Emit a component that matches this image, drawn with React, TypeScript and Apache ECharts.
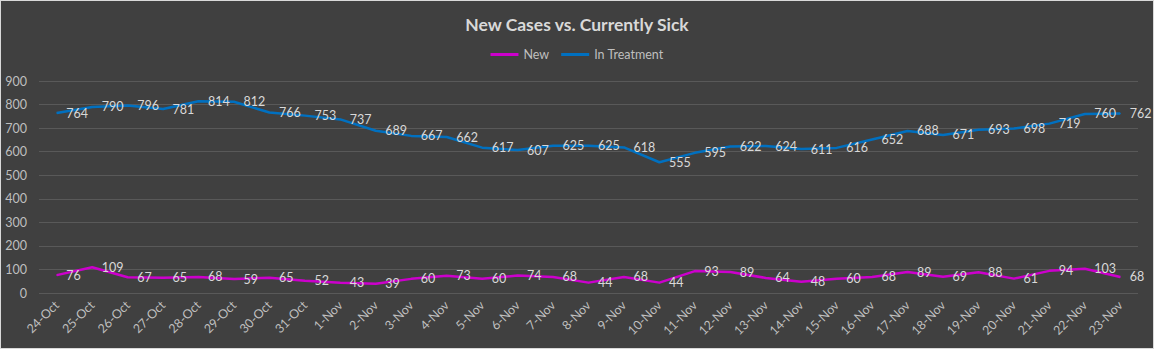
import React, { useEffect, useRef } from "react";
import * as echarts from "echarts";

const categories = [
  "24-Oct", "25-Oct", "26-Oct", "27-Oct", "28-Oct", "29-Oct", "30-Oct", "31-Oct",
  "1-Nov", "2-Nov", "3-Nov", "4-Nov", "5-Nov", "6-Nov", "7-Nov", "8-Nov", "9-Nov",
  "10-Nov", "11-Nov", "12-Nov", "13-Nov", "14-Nov", "15-Nov", "16-Nov", "17-Nov",
  "18-Nov", "19-Nov", "20-Nov", "21-Nov", "22-Nov", "23-Nov",
];

const newCases = [
  76, 109, 67, 65, 68, 59, 65, 52, 43, 39, 60, 73, 60, 74, 68, 44, 68, 44, 93, 89,
  64, 48, 60, 68, 89, 69, 88, 61, 94, 103, 68,
];

const inTreatment = [
  764, 790, 796, 781, 814, 812, 766, 753, 737, 689, 667, 662, 617, 607, 625, 625,
  618, 555, 595, 622, 624, 611, 616, 652, 688, 671, 693, 698, 719, 760, 762,
];

const yTicks = { min: 0, max: 900, interval: 100 };

const FONT = "Lato, 'Liberation Sans', sans-serif";

export default function App() {
  const ref = useRef<HTMLDivElement>(null);

  useEffect(() => {
    document.body.style.margin = "0";
    if (!ref.current) return;
    const chart = echarts.init(ref.current, undefined, { renderer: "svg" });
    const labelStyle = {
      show: true,
      position: "right" as const,
      distance: 9,
      color: "#D9D9D9",
      fontSize: 12.5,
      fontFamily: FONT,
    };
    chart.setOption({
      animation: false,
      backgroundColor: "#404040",
      textStyle: { fontFamily: FONT },
      title: {
        text: "New Cases vs. Currently Sick",
        left: "center",
        top: 9,
        textStyle: {
          color: "#D9D9D9",
          fontSize: 17.5,
          fontWeight: "bold",
          fontFamily: FONT,
        },
      },
      legend: {
        top: 42,
        left: "center",
        itemWidth: 28,
        itemHeight: 3,
        itemGap: 12,
        icon: "rect",
        textStyle: { color: "#BFBFBF", fontSize: 12.5, fontFamily: FONT },
        data: ["New", "In Treatment"],
      },
      grid: { left: 38, right: 15, top: 80, bottom: 55, containLabel: false },
      xAxis: {
        type: "category",
        data: categories,
        boundaryGap: true,
        axisLine: { show: false },
        axisTick: { show: false },
        axisLabel: {
          rotate: 45,
          color: "#BFBFBF",
          fontSize: 12.5,
          fontFamily: FONT,
          margin: 10,
          interval: 0,
        },
      },
      yAxis: {
        type: "value",
        min: yTicks.min,
        max: yTicks.max,
        interval: yTicks.interval,
        axisLine: { show: false },
        axisTick: { show: false },
        axisLabel: { color: "#BFBFBF", fontSize: 12.5, fontFamily: FONT, margin: 12 },
        splitLine: { lineStyle: { color: "#595959", width: 1 } },
      },
      series: [
        {
          name: "New",
          type: "line",
          data: newCases,
          showSymbol: true,
          symbol: "circle",
          symbolSize: 1,
          smooth: false,
          color: "#CC00CC",
          itemStyle: { color: "#CC00CC" },
          lineStyle: { color: "#CC00CC", width: 2.5 },
          label: labelStyle,
          labelLayout: { hideOverlap: false },
        },
        {
          name: "In Treatment",
          type: "line",
          data: inTreatment,
          showSymbol: true,
          symbol: "circle",
          symbolSize: 1,
          smooth: false,
          color: "#0070C0",
          itemStyle: { color: "#0070C0" },
          lineStyle: { color: "#0070C0", width: 2.5 },
          label: labelStyle,
          labelLayout: { hideOverlap: false },
        },
      ],
    });
    return () => chart.dispose();
  }, []);

  return (
    <div
      style={{
        width: 1154,
        height: 349,
        boxSizing: "border-box",
        border: "1px solid #D9D9D9",
        background: "#404040",
      }}
    >
      <div ref={ref} style={{ width: 1152, height: 347 }} />
    </div>
  );
}
